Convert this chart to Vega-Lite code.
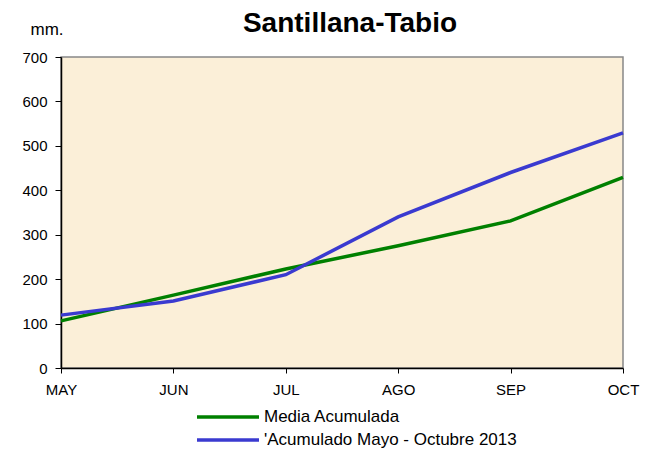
{
  "$schema": "https://vega.github.io/schema/vega-lite/v6.json",
  "width": 562,
  "height": 311,
  "autosize": {"type": "none"},
  "padding": {"left": 61, "top": 57, "right": 35, "bottom": 82},
  "background": "#ffffff",
  "config": {
    "font": "Liberation Sans",
    "view": {"fill": "#FBEFD8", "stroke": "#888888", "strokeWidth": 1.5}
  },
  "title": {
    "text": "Santillana-Tabio",
    "fontSize": 28,
    "fontWeight": "bold",
    "font": "Liberation Sans",
    "color": "#000000",
    "anchor": "middle",
    "frame": "group",
    "dx": 8,
    "offset": -18
  },
  "data": {
    "values": [
      {"mes": "MAY", "serie": "Media Acumulada", "mm": 106},
      {"mes": "JUN", "serie": "Media Acumulada", "mm": 164},
      {"mes": "JUL", "serie": "Media Acumulada", "mm": 223},
      {"mes": "AGO", "serie": "Media Acumulada", "mm": 275},
      {"mes": "SEP", "serie": "Media Acumulada", "mm": 331},
      {"mes": "OCT", "serie": "Media Acumulada", "mm": 429},
      {"mes": "MAY", "serie": "'Acumulado  Mayo - Octubre  2013", "mm": 119},
      {"mes": "JUN", "serie": "'Acumulado  Mayo - Octubre  2013", "mm": 151},
      {"mes": "JUL", "serie": "'Acumulado  Mayo - Octubre  2013", "mm": 210},
      {"mes": "AGO", "serie": "'Acumulado  Mayo - Octubre  2013", "mm": 340},
      {"mes": "SEP", "serie": "'Acumulado  Mayo - Octubre  2013", "mm": 440},
      {"mes": "OCT", "serie": "'Acumulado  Mayo - Octubre  2013", "mm": 529}
    ]
  },
  "mark": {"type": "line", "strokeWidth": 3.5},
  "encoding": {
    "x": {
      "field": "mes",
      "type": "ordinal",
      "sort": ["MAY", "JUN", "JUL", "AGO", "SEP", "OCT"],
      "scale": {"type": "point", "padding": 0},
      "axis": {
        "title": null,
        "labelAngle": 0,
        "labelFontSize": 15,
        "labelColor": "#000000",
        "labelPadding": 9,
        "tickSize": 5,
        "tickColor": "#000000",
        "domainColor": "#000000",
        "domainWidth": 1.5,
        "grid": false
      }
    },
    "y": {
      "field": "mm",
      "type": "quantitative",
      "scale": {"domain": [0, 700]},
      "axis": {
        "values": [0, 100, 200, 300, 400, 500, 600, 700],
        "title": "mm.",
        "titleAngle": 0,
        "titleX": -31,
        "titleY": -23,
        "titleAlign": "left",
        "titleBaseline": "alphabetic",
        "titleFontSize": 17,
        "titleFontWeight": "normal",
        "titleColor": "#000000",
        "labelFontSize": 15,
        "labelColor": "#000000",
        "labelPadding": 8,
        "tickSize": 6,
        "tickColor": "#000000",
        "domainColor": "#000000",
        "domainWidth": 1.5,
        "grid": false
      }
    },
    "color": {
      "field": "serie",
      "type": "nominal",
      "scale": {
        "domain": ["Media Acumulada", "'Acumulado  Mayo - Octubre  2013"],
        "range": ["#008000", "#3A3AD0"]
      },
      "legend": {
        "title": null,
        "orient": "none",
        "legendX": 134,
        "legendY": 348,
        "symbolType": "M-1,0L5.2,0",
        "symbolSize": 400,
        "symbolStrokeWidth": 3.5,
        "symbolFillColor": "transparent",
        "labelFontSize": 17,
        "labelLimit": 500,
        "labelColor": "#000000",
        "labelOffset": 45,
        "rowPadding": 3
      }
    }
  }
}
